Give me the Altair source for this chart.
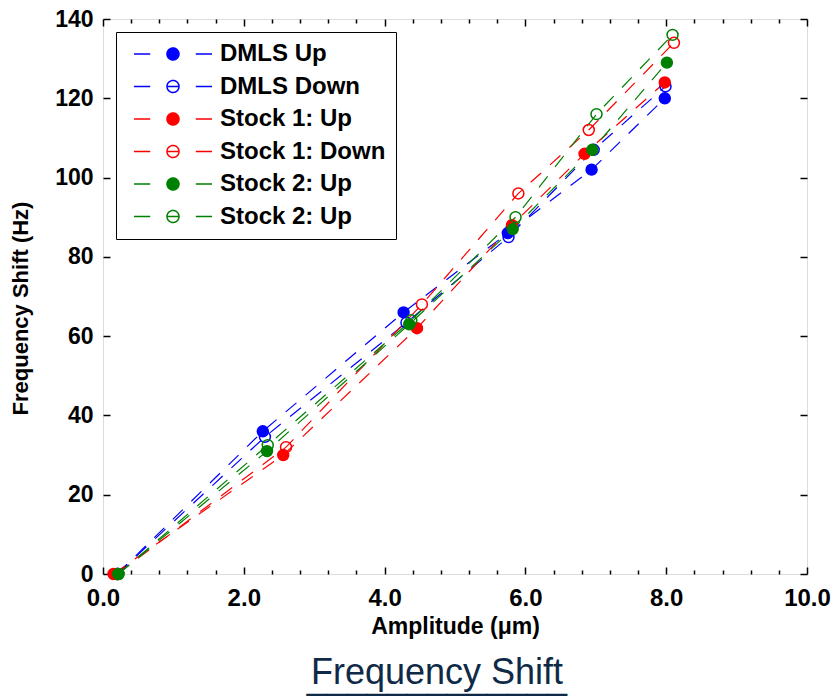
import altair as alt
import pandas as pd

# ---------------- data ----------------
series_keys = ["DMLS Up", "DMLS Down", "Stock 1: Up", "Stock 1: Down", "Stock 2: Up", "Stock 2: Up (open)"]
series_colors = ["#0000ff", "#0000ff", "#ff0000", "#ff0000", "#008000", "#008000"]
series_fills = ["#0000ff", "transparent", "#ff0000", "transparent", "#008000", "transparent"]

dmls_up_x = [0.20, 2.27, 4.27, 5.75, 6.94, 7.98]
dmls_up_y = [0, 36, 66, 86, 102, 120]
dmls_down_x = [0.20, 2.30, 4.31, 5.76, 6.97, 7.99]
dmls_down_y = [0, 34.6, 63.4, 85, 107, 123]
stock1_up_x = [0.15, 2.56, 4.46, 5.81, 6.84, 7.98]
stock1_up_y = [0, 30, 62, 88, 106, 124]
stock1_down_x = [0.20, 2.60, 4.53, 5.90, 6.90, 8.11]
stock1_down_y = [0, 32, 68, 96, 112, 134]
stock2_up_x = [0.22, 2.33, 4.35, 5.82, 6.95, 8.01]
stock2_up_y = [0, 31, 63, 87, 107, 129]
stock2_up2_x = [0.22, 2.34, 4.38, 5.86, 7.01, 8.09]
stock2_up2_y = [0, 32.5, 64, 90, 116, 136]

x_major_ticks = [0, 2, 4, 6, 8, 10]
x_minor_ticks = [0, 0.4, 0.8, 1.2, 1.6, 2, 2.4, 2.8, 3.2, 3.6, 4, 4.4, 4.8, 5.2, 5.6,
                 6, 6.4, 6.8, 7.2, 7.6, 8, 8.4, 8.8, 9.2, 9.6, 10]
y_ticks = [0, 20, 40, 60, 80, 100, 120, 140]

xs = [dmls_up_x, dmls_down_x, stock1_up_x, stock1_down_x, stock2_up_x, stock2_up2_x]
ys = [dmls_up_y, dmls_down_y, stock1_up_y, stock1_down_y, stock2_up_y, stock2_up2_y]
rows = []
for key, sx, sy in zip(series_keys, xs, ys):
    for a, b in zip(sx, sy):
        rows.append({"series": key, "amp": a, "freq": b})
df = pd.DataFrame(rows)

# ---------------- styling ----------------
W, H = 704, 555
FONT = "Liberation Sans"
LEGEND_SYMBOL = ("M-6.5,0L-3.8,0M-1,0L1,0M3.8,0L6.5,0"
                 "M1,0A1,1,0,1,1,-1,0A1,1,0,1,1,1,0Z")

legend = alt.Legend(
    orient="none", legendX=13, legendY=13, title=None,
    symbolType=LEGEND_SYMBOL, symbolSize=144, symbolStrokeWidth=1.5,
    symbolDash=[1, 0], symbolOffset=35, labelOffset=35,
    labelFont=FONT, labelFontSize=24, labelFontWeight="bold", labelColor="black",
    labelExpr="datum.label == 'Stock 2: Up (open)' ? 'Stock 2: Up' : datum.label",
    padding=10, rowPadding=8.5, strokeColor="black", fillColor="white",
    labelLimit=400,
)

color_scale = alt.Scale(domain=series_keys, range=series_colors)
fill_scale = alt.Scale(domain=series_keys, range=series_fills)
x_scale = alt.Scale(domain=[0, 10], nice=False)
y_scale = alt.Scale(domain=[0, 140], nice=False)

minor_size = {"condition": {"test": "datum.value % 2 === 0", "value": 7}, "value": 4}

base = alt.Chart(df)

lines = base.mark_line(strokeDash=[14, 12], strokeWidth=1.2).encode(
    x=alt.X("amp:Q", scale=x_scale,
            axis=alt.Axis(orient="bottom", values=x_major_ticks, format=".1f",
                          ticks=False, tickSize=0, domain=False, grid=False,
                          labelFlush=False,
                          labelFont=FONT, labelFontSize=24, labelFontWeight="bold",
                          labelColor="black", labelPadding=12,
                          title="Amplitude (μm)", titleFont=FONT, titleFontSize=23,
                          titleFontWeight="bold", titleColor="black", titlePadding=5)),
    y=alt.Y("freq:Q", scale=y_scale,
            axis=alt.Axis(orient="left", values=y_ticks, ticks=False, tickSize=0,
                          domain=False, grid=False, labelFlush=False,
                          labelFont=FONT, labelFontSize=23, labelFontWeight="bold",
                          labelColor="black", labelPadding=10,
                          title="Frequency Shift (Hz)", titleFont=FONT, titleFontSize=22,
                          titleFontWeight="bold", titleColor="black", titlePadding=22,
                          titleY=289)),
    color=alt.Color("series:N", scale=color_scale, sort=series_keys, legend=legend),
    detail="series:N",
)

points = base.mark_point(filled=False, size=120, strokeWidth=1.5, shape="circle", opacity=1).encode(
    x=alt.X("amp:Q", scale=x_scale,
            axis=alt.Axis(orient="top", offset=-H, values=x_minor_ticks, labels=False,
                          domain=False, grid=False, ticks=True, tickSize=minor_size,
                          tickColor="black", tickWidth=1.5, title=None)),
    y=alt.Y("freq:Q", scale=y_scale,
            axis=alt.Axis(orient="right", offset=-W, values=y_ticks, labels=False,
                          domain=False, grid=False, ticks=True, tickSize=7,
                          tickColor="black", tickWidth=1.5, title=None)),
    color=alt.Color("series:N", scale=color_scale, sort=series_keys, legend=legend),
    fill=alt.Fill("series:N", scale=fill_scale, sort=series_keys, legend=legend),
)

frame_ticks = base.mark_point(opacity=0).encode(
    x=alt.X("amp:Q", scale=x_scale,
            axis=alt.Axis(orient="bottom", offset=-H, values=x_minor_ticks, labels=False,
                          domain=False, grid=False, ticks=True, tickSize=minor_size,
                          tickColor="black", tickWidth=1.5, title=None)),
    y=alt.Y("freq:Q", scale=y_scale,
            axis=alt.Axis(orient="left", offset=-W, values=y_ticks, labels=False,
                          domain=False, grid=False, ticks=True, tickSize=7,
                          tickColor="black", tickWidth=1.5, title=None)),
)

chart = alt.layer(lines, points, frame_ticks).resolve_axis(
    x="independent", y="independent"
).properties(
    width=W, height=H,
    autosize=alt.AutoSizeParams(type="none"),
    padding={"left": 103, "top": 19, "right": 29, "bottom": 125},
    title=alt.TitleParams(
        text="Frequency Shift", orient="bottom", anchor="middle",
        font=FONT, fontSize=36, fontWeight="normal", color="#0f2a47", offset=18, dx=-18,
        subtitle="_____________", subtitleFont=FONT, subtitleFontSize=36,
        subtitleColor="#0f2a47", subtitlePadding=-31,
    ),
).configure_view(
    stroke="black", strokeWidth=2
).configure(background="white")

chart.save("out.html", embed_options={"renderer": "svg", "actions": False})
